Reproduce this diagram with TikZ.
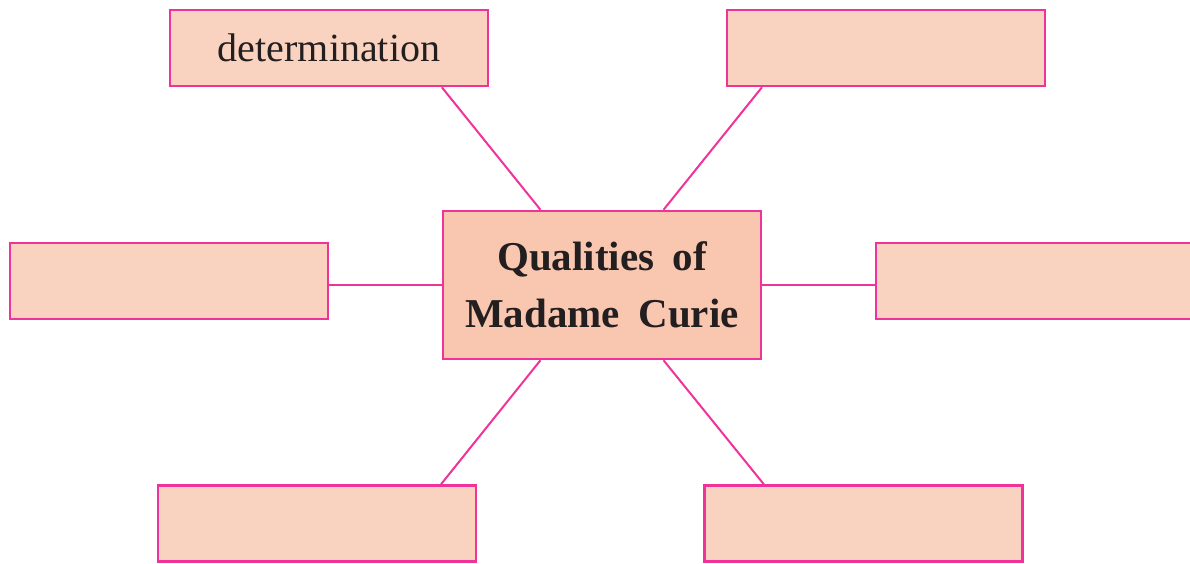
\documentclass[tikz,border=0pt]{standalone}
\usepackage{fontspec}
\setmainfont{Liberation Serif}
\usetikzlibrary{calc}
\definecolor{boxfill}{RGB}{250,210,192}
\definecolor{centerfill}{RGB}{249,198,176}
\definecolor{pinkline}{RGB}{240,50,155}
\definecolor{txt}{RGB}{35,31,32}
\tikzset{
  qbox/.style={draw=pinkline, line width=2.5pt, fill=boxfill, minimum width=318pt, minimum height=76pt, inner sep=0pt, text=txt, font=\fontsize{40}{48}\selectfont},
  cbox/.style={draw=pinkline, line width=2.5pt, fill=centerfill, minimum width=318pt, minimum height=148pt, inner sep=0pt, text=txt, align=center, font=\fontsize{41}{57}\selectfont\bfseries},
  link/.style={draw=pinkline, line width=2pt}
}
\begin{document}
\begin{tikzpicture}[x=1pt,y=-1pt]
\useasboundingbox (0,0) rectangle (1190,563);
\clip (0,0) rectangle (1190,563);
\node[qbox] (tl) at (329,48) {\raisebox{-2pt}{determination}};
\node[qbox] (tr) at (886,48) {};
\node[cbox] (c) at (602,285) {Qualities\hspace{0.2em} of\\Madame\hspace{0.2em} Curie};
\node[qbox] (l) at (169,281) {};
\node[qbox] (r) at (1035,281) {};
\node[qbox] (bl) at (317,523.5) {};
\node[qbox] (br) at (863.5,523.5) {};
\draw[link] ($(tl.south west)!0.852!(tl.south east)$) -- ($(c.north west)!0.308!(c.north east)$);
\draw[link] ($(tr.south west)!0.113!(tr.south east)$) -- ($(c.north west)!0.692!(c.north east)$);
\draw[link] ($(l.east)+(0,4)$) -- ($(c.west)$);
\draw[link] ($(r.west)+(0,4)$) -- ($(c.east)$);
\draw[link] ($(c.south west)!0.308!(c.south east)$) -- ($(bl.north west)!0.887!(bl.north east)$);
\draw[link] ($(c.south west)!0.692!(c.south east)$) -- ($(br.north west)!0.189!(br.north east)$);
\end{tikzpicture}
\end{document}
